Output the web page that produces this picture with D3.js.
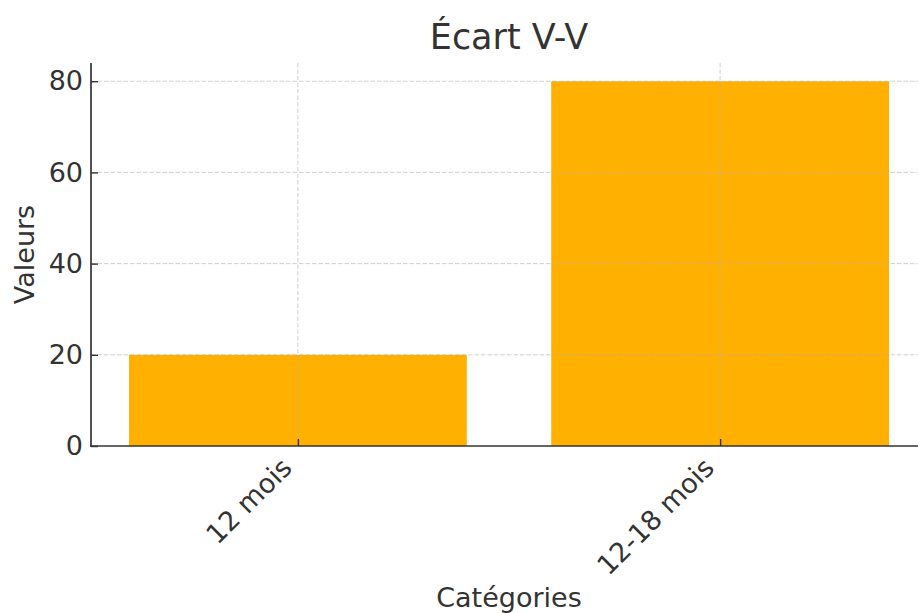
<!DOCTYPE html>
<html>
<head>
<meta charset="utf-8">
<script src="https://cdn.jsdelivr.net/npm/d3@7"></script>
<style>
  html, body { margin: 0; padding: 0; background: #fff; }
  svg { display: block; font-family: "DejaVu Sans", sans-serif; }
</style>
</head>
<body>
<svg id="chart" width="918" height="613"></svg>
<script>
const categories = ["12 mois", "12-18 mois"];
const values = [20, 80];
const yTicks = [0, 20, 40, 60, 80];
const title = "Écart V-V";
const xLabel = "Catégories";
const yLabel = "Valeurs";

const svg = d3.select("#chart");
const mLeft = 91, mRight = 927, mTop = 63, mBottom = 446;
const textColor = "#333333";
const tickFs = 27;

// x: linear positions like matplotlib (index -0.49 .. 1.49)
const x = d3.scaleLinear().domain([-0.49, categories.length - 1 + 0.49]).range([mLeft, mRight]);
const y = d3.scaleLinear().domain([0, 84]).range([mBottom, mTop]);
const barW = 0.8;

// bars
svg.append("g").selectAll("rect").data(values).join("rect")
  .attr("x", (d, i) => x(i - barW / 2))
  .attr("width", (d, i) => x(i + barW / 2) - x(i - barW / 2))
  .attr("y", d => y(d))
  .attr("height", d => y(0) - y(d))
  .attr("fill", "#ffb000");

// grid (drawn over bars)
const grid = svg.append("g").attr("stroke", "#b0b0b0").attr("stroke-opacity", 0.6)
  .attr("stroke-width", 1).attr("stroke-dasharray", "4.5,2");
grid.selectAll("line.h").data(yTicks.slice(1)).join("line").attr("class", "h")
  .attr("x1", mLeft).attr("x2", mRight)
  .attr("y1", d => y(d)).attr("y2", d => y(d));
grid.selectAll("line.v").data(categories).join("line").attr("class", "v")
  .attr("x1", (d, i) => x(i)).attr("x2", (d, i) => x(i))
  .attr("y1", mTop).attr("y2", mBottom);

// y axis
const yAxis = d3.axisLeft(y).tickValues(yTicks).tickSize(-7).tickPadding(8).tickFormat(d3.format("d"));
const gy = svg.append("g").attr("transform", `translate(${mLeft},0)`).call(yAxis);
gy.select(".domain").remove();
gy.selectAll(".tick line").attr("stroke", textColor).attr("stroke-width", 1.4);
gy.selectAll(".tick text").attr("font-size", tickFs).attr("fill", textColor)
  .attr("font-family", "DejaVu Sans").attr("x", -8);

// x axis
const xAxis = d3.axisBottom(x).tickValues(categories.map((d, i) => i)).tickSize(-7)
  .tickFormat(i => categories[i]);
const gx = svg.append("g").attr("transform", `translate(0,${mBottom})`).call(xAxis);
gx.select(".domain").remove();
gx.selectAll(".tick line").attr("stroke", textColor).attr("stroke-width", 1.4);
gx.selectAll(".tick text")
  .attr("font-size", tickFs).attr("fill", textColor).attr("font-family", "DejaVu Sans")
  .attr("text-anchor", "end").attr("dy", null).attr("y", null)
  .attr("transform", "translate(-5,23.5) rotate(-45)");

// spines
svg.append("line").attr("x1", mLeft).attr("x2", mLeft).attr("y1", mTop).attr("y2", mBottom + 0.8)
  .attr("stroke", textColor).attr("stroke-width", 1.7);
svg.append("line").attr("x1", mLeft - 0.8).attr("x2", mRight).attr("y1", mBottom).attr("y2", mBottom)
  .attr("stroke", textColor).attr("stroke-width", 1.7);

// title and labels
svg.append("text").attr("x", (mLeft + mRight) / 2).attr("y", 49).attr("text-anchor", "middle")
  .attr("font-size", 35).attr("fill", textColor).text(title);
svg.append("text").attr("x", (mLeft + mRight) / 2).attr("y", 607).attr("text-anchor", "middle")
  .attr("font-size", 27).attr("fill", textColor).text(xLabel);
svg.append("text").attr("transform", `translate(34,${(mTop + mBottom) / 2}) rotate(-90)`)
  .attr("text-anchor", "middle").attr("font-size", 27).attr("fill", textColor).text(yLabel);
</script>
</body>
</html>
